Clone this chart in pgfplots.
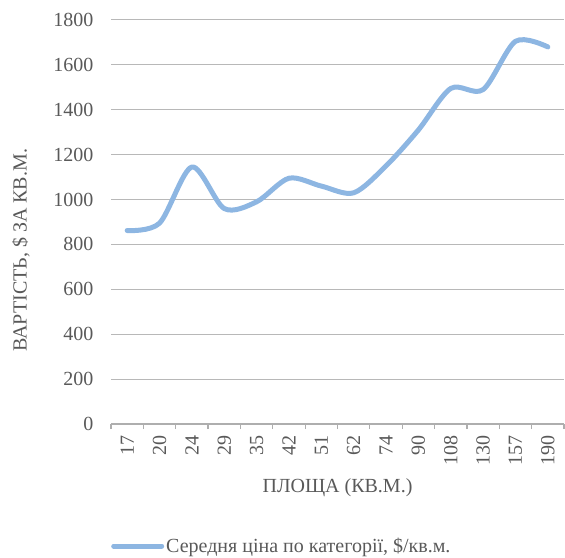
\documentclass[border=0pt]{standalone}
\usepackage{fontspec}
\setmainfont{Liberation Serif}
\usepackage{pgfplots}
\pgfplotsset{compat=1.18}
\definecolor{linecol}{RGB}{141,182,226}
\definecolor{txt}{RGB}{89,89,89}
\definecolor{grid}{RGB}{217,217,217}
\begin{document}
\begin{tikzpicture}[font=\fontsize{20bp}{24bp}\selectfont]
\path[use as bounding box] (0,0) rectangle (565bp,558bp);
\begin{axis}[
  at={(111bp,134bp)}, anchor=south west,
  scale only axis,
  width=453bp, height=404bp,
  xmin=-0.5, xmax=13.5,
  ymin=0, ymax=1800,
  ytick={0,200,...,1800},
  xtick={0,...,13},
  xticklabels={17,20,24,29,35,42,51,62,74,90,108,130,157,190},
  x tick label style={rotate=90, anchor=east, text=txt, yshift=0bp},
  y tick label style={text=txt},
  /pgf/number format/assume math mode=true,
  /pgf/number format/1000 sep={},
  major tick length=0pt,
  minor xtick={-0.5,0.5,...,13.5},
  minor tick length=5bp,
  every minor tick/.style={draw=grid!80!black, line width=1.2bp},
  tick align=outside,
  xtick pos=bottom,
  ytick pos=left,
  ymajorgrids,
  grid style={draw=grid!85!black, line width=1bp},
  axis line style={draw=none},
  axis x line*=bottom,
  axis y line*=left,
  x axis line style={draw=grid!80!black, line width=1.2bp},
  y axis line style={draw=none},
  xticklabel shift=8bp,
  yticklabel shift=14bp,
  xlabel={ПЛОЩА (КВ.М.)},
  ylabel={ВАРТІСТЬ, \$ ЗА КВ.М.},
  xlabel style={at={(axis description cs:0.5,-0.158)}, anchor=center, text=txt},
  ylabel style={at={(axis description cs:-0.199,0.43)}, anchor=center, text=txt},
  legend style={at={(axis description cs:0.0,-0.302)}, anchor=west, draw=none, fill=none, text=txt,
    inner xsep=0pt, /tikz/every even column/.append style={column sep=0bp}},
  legend cell align=left,
  legend image code/.code={\draw[#1, line width=5bp] (0bp,0bp) -- (48bp,0bp);},
]
\addplot[color=linecol, line width=5bp, smooth, tension=0.5, line cap=round, line join=round] coordinates {
(0,862) (1,895) (2,1145) (3,960) (4,990) (5,1095) (6,1060) (7,1030) (8,1150) (9,1310) (10,1495) (11,1490) (12,1705) (13,1680)
};
\addlegendentry{Середня ціна по категорії, \$/кв.м.}
\end{axis}
\end{tikzpicture}
\end{document}
